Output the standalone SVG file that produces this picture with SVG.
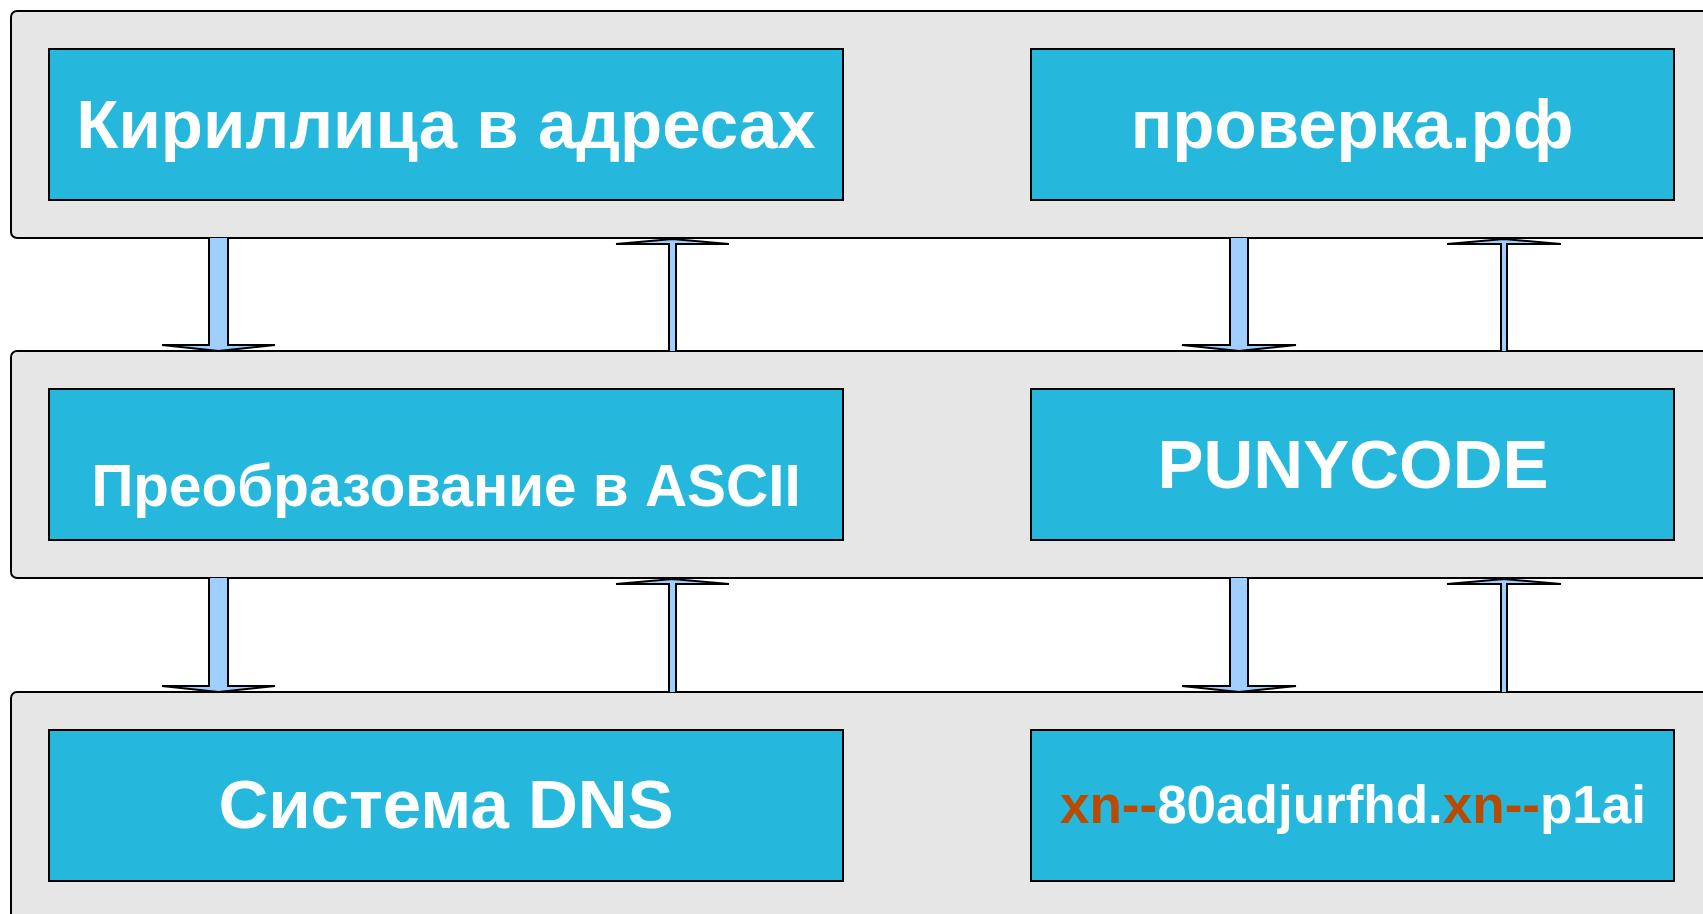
<svg xmlns="http://www.w3.org/2000/svg" width="1703" height="914" viewBox="0 0 1703 914">
<style>
.band{fill:#e6e6e6;stroke:#000;stroke-width:2}
.box{fill:#26b7dc;stroke:#000;stroke-width:2}
.t{font-family:"Liberation Sans",Arial,sans-serif;font-weight:bold;fill:#fff;text-anchor:middle}
.o{fill:#b94a00}
.arr{fill:#9fcfff;stroke:#000;stroke-width:2;stroke-linejoin:miter}
</style>
<rect width="1703" height="914" fill="#fff"/>
<g id="band1"><rect class="band" x="11" y="11" width="1720" height="227" rx="6"/></g>
<g id="band2"><rect class="band" x="11" y="351" width="1720" height="227" rx="6"/></g>
<g id="band3"><rect class="band" x="11" y="692" width="1720" height="260" rx="6"/></g>
<g id="n1"><rect class="box" x="49" y="49" width="794" height="151"/><text class="t" x="446" y="148" font-size="69">Кириллица в адресах</text></g>
<g id="n2"><rect class="box" x="1031" y="49" width="643" height="151"/><text class="t" x="1352" y="148" font-size="69">проверка.рф</text></g>
<g id="n3"><rect class="box" x="49" y="389" width="794" height="151"/><text class="t" x="446" y="506" font-size="58.4">Преобразование в ASCII</text></g>
<g id="n4"><rect class="box" x="1031" y="389" width="643" height="151"/><text class="t" x="1353" y="488" font-size="69">PUNYCODE</text></g>
<g id="n5"><rect class="box" x="49" y="730" width="794" height="151"/><text class="t" x="446" y="828" font-size="69">Система DNS</text></g>
<g id="n6"><rect class="box" x="1031" y="730" width="643" height="151"/><text class="t" x="1353" y="823" font-size="53"><tspan class="o">xn--</tspan>80adjurfhd.<tspan class="o">xn--</tspan>p1ai</text></g>
<g id="connectors">
<path class="arr" d="M209,238 V345 H162 L218.5,351 L275,345 H228 V238"/>
<path class="arr" d="M669,351 V244 H616 L672.5,239 L729,244 H676 V351"/>
<path class="arr" d="M1230,238 V345 H1182 L1239,351 L1296,345 H1248 V238"/>
<path class="arr" d="M1501,351 V244 H1447 L1504,239 L1561,244 H1507 V351"/>
<path class="arr" d="M209,578 V686 H162 L218.5,692 L275,686 H228 V578"/>
<path class="arr" d="M669,692 V584 H616 L672.5,579 L729,584 H676 V692"/>
<path class="arr" d="M1230,578 V686 H1182 L1239,692 L1296,686 H1248 V578"/>
<path class="arr" d="M1501,692 V584 H1447 L1504,579 L1561,584 H1507 V692"/>
</g>
</svg>
